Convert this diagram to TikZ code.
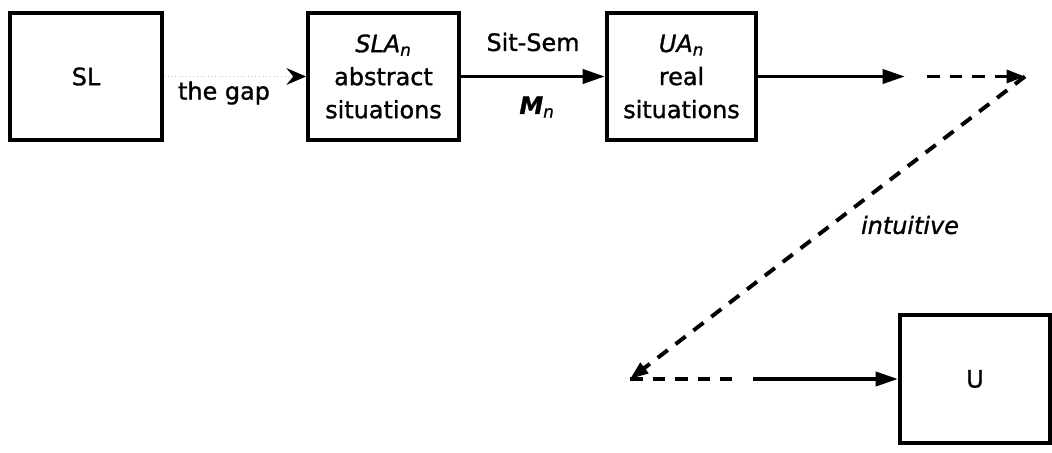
\documentclass[tikz,border=0pt]{standalone}
\usepackage{fontspec}
\setmainfont{DejaVu Sans}[FakeBold=1.2]
\usetikzlibrary{arrows.meta}
\begin{document}
\begin{tikzpicture}[x=0.025cm,y=-0.025cm,
  every node/.style={font=\fontsize{17}{23.5}\selectfont},
  box/.style={draw,line width=2.8pt,inner sep=0pt,align=center},
  solidarrow/.style={line width=2.8pt,-{Triangle[length=16pt,width=10pt]}},
  dasharrow/.style={line width=2.8pt,dash pattern=on 9pt off 7pt,-{Triangle[length=13pt,width=9pt]}},
  dashline/.style={line width=2.8pt,dash pattern=on 9pt off 7pt},
  gapline/.style={line width=0.6pt,gray!50,dotted,-{Stealth[length=14pt,width=12pt,black,inset=5pt]}},
  lbl/.style={inner sep=1pt}]
\useasboundingbox (0,0) rectangle (1052,453);
\node[box,minimum width=3.8cm,minimum height=3.175cm] (SL) at (86,76.5) {SL};
\node[box,minimum width=3.775cm,minimum height=3.175cm] (SLA) at (383.5,76.5) {\textit{SLA}\textsubscript{\textit{n}}\\abstract\\situations};
\node[box,minimum width=3.725cm,minimum height=3.175cm] (UA) at (681.5,76.5) {\textit{UA}\textsubscript{\textit{n}}\\real\\situations};
\node[box,minimum width=3.75cm,minimum height=3.2cm] (U) at (975,379) {U};
\coordinate (c1) at (905,76.5);
\coordinate (c1b) at (927,76.5);
\coordinate (c2) at (1025,76.5);
\coordinate (c3) at (630,379);
\coordinate (c4) at (732,379);
\coordinate (c5) at (753,379);
\draw[gapline] (SL) -- (SLA);
\node[lbl] (gap) at (224,93) {the gap};
\draw[solidarrow] (SLA) -- (UA);
\node[lbl] (sitsem) at (533,42) {Sit-Sem};
\node[lbl] (mn) at (537,107) {\textbf{\textit{M}}\textsubscript{\textit{n}}};
\draw[solidarrow] (UA) -- (c1);
\draw[dasharrow] (c1b) -- (c2);
\draw[dasharrow] (c2) -- (c3);
\draw[dashline] (c3) -- (c4);
\draw[solidarrow] (c5) -- (U);
\node[lbl] (intu) at (910,225) {\textit{intuitive}};
\end{tikzpicture}
\end{document}
